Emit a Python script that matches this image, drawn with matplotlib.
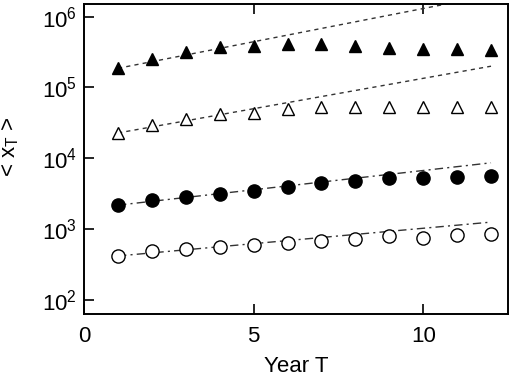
import numpy as np
import matplotlib
matplotlib.use('Agg')
import matplotlib.pyplot as plt
from matplotlib.ticker import NullLocator, FixedLocator

plt.rcParams['font.family'] = ['Liberation Sans', 'DejaVu Sans']
plt.rcParams['mathtext.default'] = 'regular'

# years
years = np.arange(1, 13)

# data
filled_tri = [1.86e5, 2.49e5, 3.12e5, 3.67e5, 3.85e5, 4.05e5,
              4.05e5, 3.9e5, 3.55e5, 3.45e5, 3.5e5, 3.4e5]
open_tri = [2.27e4, 2.94e4, 3.57e4, 4.2e4, 4.35e4, 4.95e4,
            5.27e4, 5.3e4, 5.27e4, 5.2e4, 5.2e4, 5.27e4]
filled_circ = [2.17e3, 2.55e3, 2.84e3, 3.09e3, 3.45e3, 3.95e3,
               4.5e3, 4.8e3, 5.3e3, 5.3e3, 5.5e3, 5.66e3]
open_circ = [416, 490, 529, 557, 595, 628, 677, 715, 795, 756, 821, 840]

# fitted lines: values at first and last year
fit_years = [1, 12]
fit_filled_tri = [1.86e5, 2.0e6]
fit_open_tri = [2.27e4, 1.99e5]
fit_filled_circ = [2.17e3, 8.6e3]
fit_open_circ = [416, 1250]

fig = plt.figure(figsize=(5.10, 3.81), dpi=100)
ax = fig.add_axes([0.165, 0.176, 0.831, 0.814])

ax.plot(fit_years, fit_filled_tri, color='#333333', lw=1, ls=(0, (3, 3)))
ax.plot(fit_years, fit_open_tri, color='#333333', lw=1, ls=(0, (3, 3)))
ax.plot(fit_years, fit_filled_circ, color='#333333', lw=1, ls=(0, (6, 3, 1.5, 3)))
ax.plot(fit_years, fit_open_circ, color='#333333', lw=1, ls=(0, (6, 3, 1.5, 3)))

ax.plot(years, filled_tri, '^', ms=9, mfc='black', mec='black', ls='none')
ax.plot(years, open_tri, '^', ms=9, mfc='white', mec='black', mew=1, ls='none')
ax.plot(years, filled_circ, 'o', ms=9.5, mfc='black', mec='black', ls='none')
ax.plot(years, open_circ, 'o', ms=9.5, mfc='white', mec='black', mew=1, ls='none')

ax.set_yscale('log')
ax.set_xlim(0, 12.5)
ax.set_ylim(10**1.8, 10**6.18)
ax.xaxis.set_major_locator(FixedLocator([0, 5, 10]))
ax.yaxis.set_minor_locator(NullLocator())
ax.yaxis.set_major_locator(FixedLocator([1e2, 1e3, 1e4, 1e5, 1e6]))

ax.tick_params(direction='in', length=7, width=1.2, labelsize=16, top=True, right=False)
ax.tick_params(axis='x', pad=9)
ax.tick_params(axis='y', pad=5)
for s in ax.spines.values():
    s.set_linewidth(1.4)

ax.set_xlabel('Year T', fontsize=16, labelpad=6)
ax.set_ylabel('< x$_{T}$ >', fontsize=16)
ax.yaxis.set_label_coords(-0.148, 0.54)

fig.savefig('out.png', dpi=100)
